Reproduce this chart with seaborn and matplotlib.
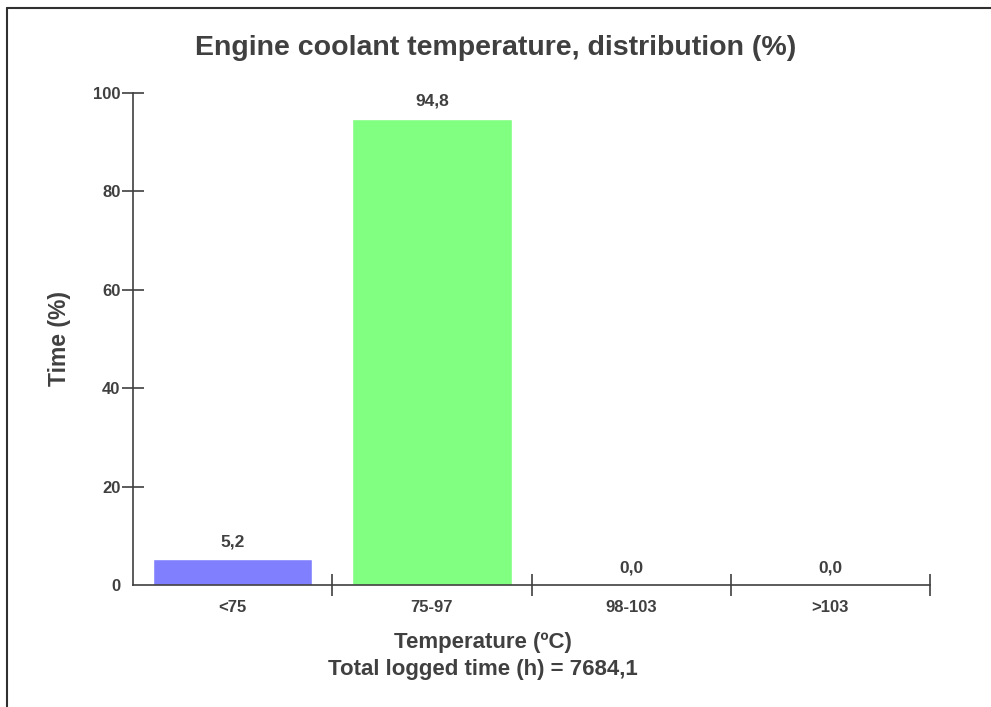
import matplotlib
matplotlib.use("Agg")
import matplotlib.pyplot as plt
from matplotlib.lines import Line2D
import numpy as np
import pandas as pd
import seaborn as sns

# data
categories = ["<75", "75-97", "98-103", ">103"]
time_pct = [5.2, 94.8, 0.0, 0.0]
bar_colors = ["#8080ff", "#80ff80", "#ff8080", "#ffbf80"]
total_hours = "7684,1"

sns.set_style("white")
plt.rcParams["font.family"] = ["Liberation Sans", "DejaVu Sans"]
plt.rcParams["font.weight"] = "bold"
txt = "#404040"

df = pd.DataFrame({"cat": categories, "pct": time_pct})

fig = plt.figure(figsize=(9.91, 7.07), dpi=100)
ax = fig.add_axes([133 / 991, 1 - 585 / 707, (930 - 133) / 991, (585 - 93) / 707])

sns.barplot(data=df, x="cat", y="pct", hue="cat", palette=bar_colors,
            width=0.8, legend=False, ax=ax, saturation=1)

ax.set_xlim(-0.5, len(categories) - 0.5)
ax.set_ylim(0, 100)

# value labels with comma decimals
for cont in ax.containers:
    vals = [f"{b.get_height():.1f}".replace(".", ",") for b in cont]
    ax.bar_label(cont, labels=vals, padding=7, fontsize=12.5,
                 fontweight="bold", color=txt)

# axes styling
for s in ["top", "right"]:
    ax.spines[s].set_visible(False)
for s in ["left", "bottom"]:
    ax.spines[s].set_color(txt)
    ax.spines[s].set_linewidth(1.2)

ax.set_yticks([0, 20, 40, 60, 80, 100])
ax.tick_params(axis="y", left=True, direction="inout", length=16, width=1.2,
               color=txt, labelsize=12, labelcolor=txt, pad=1)
ax.yaxis.get_major_ticks()[0].tick1line.set_visible(False)

ax.set_xticks(range(len(categories)))
ax.set_xticklabels(categories)
ax.tick_params(axis="x", which="major", bottom=True, length=0, labelsize=12,
               labelcolor=txt, pad=11)
ax.set_xticks(np.arange(0.5, len(categories), 1.0), minor=True)
ax.tick_params(axis="x", which="minor", bottom=True, direction="inout",
               length=16, width=1.2, color=txt)

ax.set_ylabel("Time (%)", fontsize=16.5, fontweight="bold", color=txt, labelpad=16)
ax.set_xlabel(f"Temperature (ºC)\nTotal logged time (h) = {total_hours}",
              fontsize=16, fontweight="bold", color=txt, labelpad=12,
              linespacing=1.4)
# the x label is centred a bit left of the axes centre in the reference
ax.xaxis.set_label_coords((483 - 133) / 797, -0.095)
ax.xaxis.label.set_va("top")

fig.suptitle("Engine coolant temperature, distribution (%)", x=0.5,
             y=1 - 48 / 707, va="center", fontsize=20.5, fontweight="bold", color=txt)

# frame around the chart (only top and left visible in reference)
fx = 7 / 991
fy = 1 - 8 / 707
fig.add_artist(Line2D([fx, 1], [fy, fy], transform=fig.transFigure,
                      color="#303030", lw=1.5))
fig.add_artist(Line2D([fx, fx], [0, fy], transform=fig.transFigure,
                      color="#303030", lw=1.5))

fig.savefig("out.png", dpi=100)
